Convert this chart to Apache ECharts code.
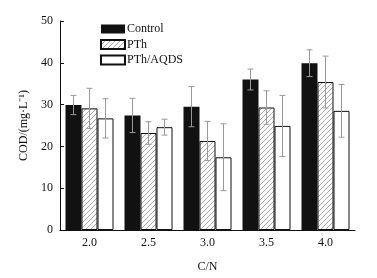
<!DOCTYPE html>
<html>
<head>
<meta charset="utf-8">
<script src="https://cdn.jsdelivr.net/npm/echarts@6/dist/echarts.min.js"></script>
<style>
html, body { margin: 0; padding: 0; background: #fff; }
#chart { width: 377px; height: 278px; }
</style>
</head>
<body>
<div id="chart"></div>
<script>
var categories = ['2.0', '2.5', '3.0', '3.5', '4.0'];
var seriesNames = ['Control', 'PTh', 'PTh/AQDS'];
var controlVals = [29.9, 27.4, 29.5, 36.0, 39.9];
var controlErr = [2.3, 4.1, 4.8, 2.5, 3.2];
var pthVals = [29.1, 23.2, 21.3, 29.3, 35.4];
var pthErr = [4.8, 2.7, 4.7, 4.0, 6.2];
var aqdsVals = [26.7, 24.6, 17.4, 24.9, 28.5];
var aqdsErr = [4.7, 1.9, 8.0, 7.3, 6.3];
var yTicks = [0, 10, 20, 30, 40, 50];

var FONT = '"Liberation Serif", "Times New Roman", serif';
var BAR_W = 16;

// hatch pattern for PTh
var hatch = document.createElement('canvas');
hatch.width = 5; hatch.height = 5;
var hc = hatch.getContext('2d');
hc.fillStyle = '#fff';
hc.fillRect(0, 0, 5, 5);
hc.strokeStyle = '#888';
hc.lineWidth = 0.7;
hc.beginPath();
hc.moveTo(0, 5); hc.lineTo(5, 0);
hc.moveTo(-1, 1); hc.lineTo(1, -1);
hc.moveTo(4, 6); hc.lineTo(6, 4);
hc.stroke();

var fills = ['#111', { image: hatch, repeat: 'repeat' }, '#fff'];
var vals = [controlVals, pthVals, aqdsVals];
var errs = [controlErr, pthErr, aqdsErr];

function errData(v, e) {
	return v.map(function (x, i) { return [i, x - e[i], x + e[i]]; });
}

function errRender(offset) {
	return function (params, api) {
		var lo = api.coord([api.value(0), api.value(1)]);
		var hi = api.coord([api.value(0), api.value(2)]);
		var x = lo[0] + offset;
		var cap = 3;
		var st = { stroke: '#999', lineWidth: 1 };
		return {
			type: 'group',
			children: [
				{ type: 'line', shape: { x1: x, y1: lo[1], x2: x, y2: hi[1] }, style: st },
				{ type: 'line', shape: { x1: x - cap, y1: hi[1], x2: x + cap, y2: hi[1] }, style: st },
				{ type: 'line', shape: { x1: x - cap, y1: lo[1], x2: x + cap, y2: lo[1] }, style: st }
			]
		};
	};
}

var series = [];
seriesNames.forEach(function (name, k) {
	series.push({
		name: name,
		type: 'bar',
		data: vals[k],
		barWidth: BAR_W,
		barGap: '0%',
		itemStyle: { color: fills[k], borderColor: '#111', borderWidth: k === 0 ? 0 : 1 }
	});
});
seriesNames.forEach(function (name, k) {
	series.push({
		type: 'custom',
		data: errData(vals[k], errs[k]),
		renderItem: errRender((k - 1) * BAR_W),
		z: 5,
		silent: true
	});
});

var chart = echarts.init(document.getElementById('chart'));
chart.setOption({
	animation: false,
	textStyle: { fontFamily: FONT },
	grid: { left: 60, right: 22, top: 21, bottom: 40 },
	legend: {
		orient: 'vertical',
		left: 100,
		top: 23,
		padding: 0,
		icon: 'rect',
		itemWidth: 24,
		itemHeight: 9,
		itemGap: 3.5,
		data: seriesNames,
		textStyle: { fontFamily: FONT, fontSize: 12, color: '#111', padding: [0, 0, 0, -3] }
	},
	xAxis: {
		type: 'category',
		data: categories,
		name: 'C/N',
		nameLocation: 'middle',
		nameGap: 31,
		nameTextStyle: { fontFamily: FONT, fontSize: 12, color: '#111' },
		axisLine: { lineStyle: { color: '#111', width: 1 } },
		axisTick: { show: false },
		axisLabel: { fontFamily: FONT, fontSize: 12, color: '#111', margin: 7 }
	},
	yAxis: {
		type: 'value',
		min: 0,
		max: 50,
		interval: 10,
		name: 'COD/(mg·L\u207B\u00B9)',
		nameLocation: 'middle',
		nameGap: 27,
		nameTextStyle: { fontFamily: FONT, fontSize: 12, color: '#111' },
		axisLine: { show: true, lineStyle: { color: '#111', width: 1 } },
		axisTick: { show: true, inside: true, length: 4, lineStyle: { color: '#111' } },
		axisLabel: {
			fontFamily: FONT, fontSize: 12, color: '#111', margin: 7,
			formatter: function (v) { return yTicks.indexOf(v) >= 0 ? String(v) : ''; }
		},
		splitLine: { show: false }
	},
	series: series
});
</script>
</body>
</html>
